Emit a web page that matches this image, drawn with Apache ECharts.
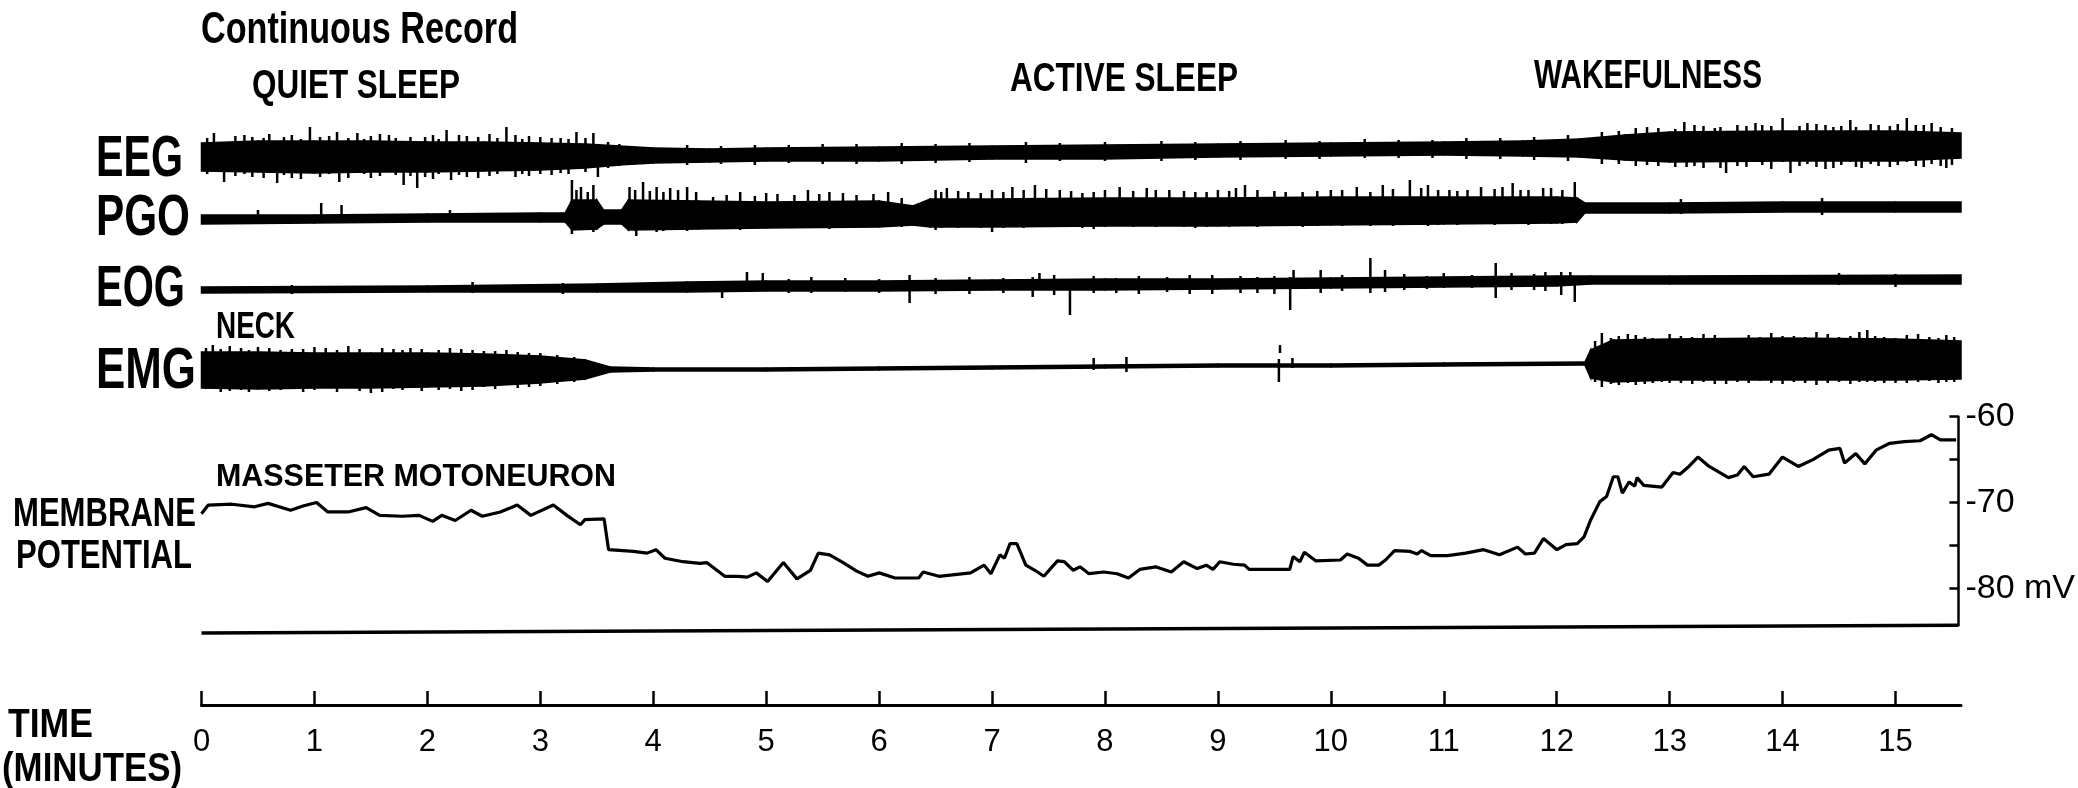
<!DOCTYPE html>
<html><head><meta charset="utf-8">
<script src="https://cdn.jsdelivr.net/npm/echarts@6/dist/echarts.min.js"></script>
<style>html,body{margin:0;padding:0;background:#fff}#c{width:2078px;height:788px}</style>
</head><body><div id="c"></div><script>
// ---------------- DATA ----------------
const timeTicks = [0,1,2,3,4,5,6,7,8,9,10,11,12,13,14,15];
const timeEnd = 15.58;

const stageLabels = ['QUIET SLEEP', 'ACTIVE SLEEP', 'WAKEFULNESS'];
const traceLabels = ['EEG', 'PGO', 'EOG', 'EMG'];

// Membrane potential of masseter motoneuron (minutes, mV)
const mpTime = [0.00,0.06,0.27,0.47,0.59,0.79,0.90,1.02,1.12,1.30,1.46,1.58,1.78,1.93,2.05,2.13,2.25,2.39,2.49,2.65,2.80,2.92,3.12,3.24,3.36,3.40,3.57,3.61,3.83,3.95,4.03,4.11,4.27,4.42,4.48,4.64,4.76,4.84,4.92,5.02,5.16,5.28,5.40,5.47,5.57,5.69,5.81,5.91,6.01,6.15,6.36,6.40,6.54,6.82,6.94,7.00,7.08,7.12,7.17,7.23,7.31,7.39,7.47,7.59,7.65,7.73,7.79,7.87,8.00,8.12,8.22,8.32,8.46,8.60,8.71,8.83,8.91,8.97,9.03,9.15,9.25,9.29,9.65,9.68,9.74,9.78,9.88,10.10,10.16,10.26,10.34,10.44,10.50,10.58,10.72,10.78,10.82,10.90,11.05,11.21,11.37,11.51,11.67,11.74,11.82,11.90,12.02,12.10,12.20,12.26,12.32,12.40,12.46,12.52,12.56,12.60,12.66,12.71,12.73,12.79,12.95,13.05,13.11,13.19,13.27,13.37,13.54,13.62,13.68,13.76,13.90,14.02,14.16,14.29,14.43,14.53,14.57,14.67,14.75,14.85,14.97,15.10,15.24,15.34,15.42,15.56];
const mpValue = [-71.3,-70.3,-70.2,-70.5,-70.1,-70.9,-70.4,-70.0,-71.1,-71.1,-70.6,-71.5,-71.6,-71.5,-72.2,-71.5,-72.1,-70.9,-71.6,-71.1,-70.3,-71.5,-70.3,-71.5,-72.6,-72.0,-71.9,-75.5,-75.7,-75.9,-75.5,-76.5,-76.9,-77.1,-77.0,-78.6,-78.6,-78.7,-78.2,-79.2,-77.0,-78.9,-77.9,-75.9,-76.1,-77.0,-78.0,-78.6,-78.2,-78.8,-78.8,-78.1,-78.6,-78.2,-77.3,-78.3,-76.1,-76.5,-74.8,-74.8,-77.3,-77.9,-78.6,-76.8,-76.9,-77.9,-77.5,-78.3,-78.1,-78.3,-78.8,-77.8,-77.5,-78.1,-76.9,-77.7,-77.3,-77.8,-76.9,-77.2,-77.3,-77.8,-77.8,-76.3,-76.9,-75.8,-76.8,-76.7,-76.0,-76.5,-77.3,-77.3,-76.7,-75.6,-75.7,-76.0,-75.6,-76.2,-76.2,-75.9,-75.5,-76.1,-75.2,-76.0,-75.9,-74.2,-75.5,-74.9,-74.8,-74.0,-72.0,-69.9,-69.3,-67.0,-67.0,-68.9,-67.6,-68.1,-67.1,-68.0,-68.2,-66.5,-66.7,-65.8,-64.7,-65.8,-67.1,-66.8,-65.8,-67.0,-66.7,-64.7,-65.8,-65.0,-63.9,-63.7,-65.4,-64.3,-65.5,-63.9,-63.1,-62.9,-62.8,-62.1,-62.7,-62.7];
// zero reference line below the membrane trace
const mpBaseTime = [0, 15.58];
const mpBaseValue = [-85.2, -84.3];
const mvTicks = [-60, -65, -70, -75, -80];
const mvLabels = [-60, -70, -80];

// Trace envelopes (arbitrary units, + = up): upper and lower edge of the dense trace
const eegTime  = [0,0.5,1,1.5,2,2.5,3,3.4,3.7,4,4.5,5,6,7,8,9,10,11,11.7,12.2,12.6,13,14,15,15.58];
const eegUpper = [9,11,11,11,10,10,9,8,6,4,3,4,5,6,7,8,9,10,11,13,17,20,21,21,19];
const eegLower = [-19,-20,-21,-20,-20,-19,-18,-16,-13,-11,-10,-9,-9,-7,-7,-5,-4,-3,-4,-5,-8,-10,-9,-9,-6];
// spikes: [minute, top, bottom]
const eegSpikes = [[0.05,14,-22],[0.11,19,-10],[0.2,8,-30],[0.3,16,-24],[0.38,17,-22],[0.45,15,-25],[0.55,14,-26],[0.6,18,-20],[0.67,10,-31],[0.73,15,-23],[0.8,17,-26],[0.88,13,-27],[0.96,25,-12],[1.05,15,-25],[1.13,16,-22],[1.2,20,-15],[1.22,10,-30],[1.3,14,-26],[1.38,19,-14],[1.44,13,-22],[1.5,16,-26],[1.58,18,-24],[1.66,17,-12],[1.72,14,-23],[1.79,10,-33],[1.85,15,-24],[1.91,8,-36],[1.98,15,-25],[2.05,17,-27],[2.1,13,-22],[2.17,22,-14],[2.21,10,-28],[2.28,17,-23],[2.35,16,-25],[2.45,15,-26],[2.55,18,-24],[2.62,14,-22],[2.7,25,-12],[2.78,17,-25],[2.84,13,-22],[2.9,16,-24],[3.0,15,-22],[3.1,14,-23],[3.18,14,-21],[3.25,13,-22],[3.32,20,-12],[3.4,14,-20],[3.47,19,-10],[3.51,6,-25],[3.6,10,-16],[3.7,8,-14],
  [4.3,7,-13],[4.6,6,-12],[4.9,7,-13],[5.2,7,-11],[5.5,8,-12],[5.8,8,-12],[6.2,9,-12],[6.5,8,-11],[6.8,9,-10],[7.3,10,-11],[7.6,9,-9],[8.0,10,-9],[8.5,11,-9],[8.8,10,-8],[9.2,11,-8],[9.6,12,-7],[9.9,11,-7],[10.3,13,-6],[10.6,12,-6],[10.9,12,-6],[11.2,14,-7],[11.5,14,-7],[11.8,15,-8],[12.1,17,-9],
  [12.4,20,-12],[12.55,21,-12],[12.7,24,-14],[12.8,25,-13],[12.9,24,-14],[13.05,23,-15],[13.13,30,-10],[13.15,15,-15],[13.22,27,-14],[13.3,26,-16],[13.4,24,-10],[13.45,25,-16],[13.5,12,-21],[13.6,27,-14],[13.68,26,-15],[13.76,29,-10],[13.82,27,-13],[13.9,26,-17],[14.0,34,-10],[14.07,15,-21],[14.15,26,-14],[14.22,29,-12],[14.3,28,-15],[14.38,27,-17],[14.45,25,-16],[14.52,26,-13],[14.6,32,-10],[14.65,25,-15],[14.7,15,-16],[14.78,28,-12],[14.85,27,-14],[14.95,26,-15],[15.02,28,-13],[15.1,34,-10],[15.18,27,-14],[15.25,27,-15],[15.32,29,-12],[15.4,25,-14],[15.45,15,-16],[15.5,24,-13]];

const pgoTime  = [0,1,2,3,3.22,3.28,3.5,3.56,3.72,3.78,4.4,5,6,6.3,6.45,7,8,9,10,11,12,12.18,12.25,13,14,15,15.58];
const pgoUpper = [-3,-3,-2,-1,-1,12,12,2,2,12,11,10,11,6,13,13,14,14,15,15,15,14,9,9,10,10,10];
const pgoLower = [-12,-11,-10,-10,-10,-18,-17,-12,-12,-18,-17,-16,-15,-13,-15,-15,-14,-14,-13,-12,-11,-10,-1,-1,0,0,0];
const pgoSpikes = [[0.5,2,-8],[1.06,9,-4],[1.24,7,-4],[2.2,2,-9],
  [3.28,32,-22],[3.32,22,-18],[3.36,25,0],[3.42,20,-18],[3.47,27,-20],[3.79,25,0],[3.84,22,-19],[3.85,10,-24],[3.91,30,0],[3.97,21,-18],[4.03,25,-20],[4.09,20,-19],[4.15,24,0],[4.22,22,-18],[4.3,25,-19],[4.38,20,-17],
  [4.53,15,0],[4.65,17,-17],[4.77,20,-18],[4.9,16,-16],[5.0,19,-16],[5.1,18,0],[5.25,17,-16],[5.37,22,0],[5.47,18,-16],[5.56,20,-17],[5.68,19,-15],[5.8,17,0],[5.95,18,-15],[6.08,20,0],[6.2,14,-15],[6.5,22,-18],[6.55,20,-16],[6.6,24,0],[6.7,21,-16],[6.79,20,0],[6.9,19,-16],[7.0,22,-20],[7.1,20,-16],[7.18,25,0],[7.28,22,-16],[7.38,27,0],[7.48,23,-15],[7.6,22,0],[7.7,21,-15],[7.8,19,-16],[7.9,20,-17],[8.0,22,-15],[8.13,25,0],[8.25,21,-15],[8.37,24,0],[8.45,22,-15],[8.57,22,0],[8.7,21,-15],[8.8,20,-16],[8.9,20,-15],[9.0,22,0],[9.1,21,-15],[9.16,24,0],[9.24,27,0],[9.35,22,-15],[9.5,21,0],[9.6,20,-14],[9.75,20,-15],[9.88,21,-14],[10.0,22,0],[10.1,22,-14],[10.23,25,0],[10.35,20,-14],[10.46,27,0],[10.55,23,-14],[10.7,32,0],[10.8,24,-13],[10.86,27,-14],[10.95,22,-13],[11.05,22,0],[11.12,21,-13],[11.21,22,0],[11.33,25,0],[11.45,23,-13],[11.52,25,-12],[11.61,29,0],[11.68,22,-12],[11.75,22,-13],[11.88,24,0],[11.95,24,-12],[12.05,22,-12],[12.16,30,0],
  [13.1,13,-2],[14.35,14,-3]];

const eogTime  = [0,2,3.5,4.3,5,6,7,8,9,10,11,12,12.3,13,15.58];
const eogUpper = [-2,-1,1,3,4,4,5,6,6,7,8,9,9,9,10];
const eogLower = [-8,-7,-7,-7,-6,-6,-5,-5,-4,-3,-2,-1,1,1,1];
const eogSpikes = [[0.8,0,-9],[2.4,3,-8],[3.2,2,-9],[4.61,0,-13],[4.83,13,0],[4.97,12,0],[5.2,6,-8],[5.4,8,-8],[5.7,7,-7],[6.0,6,-8],[6.27,10,-18],[6.5,7,-9],[6.8,8,-9],[7.1,7,-8],[7.36,8,-12],[7.42,12,0],[7.55,10,-10],[7.69,0,-30],[7.9,9,-8],[8.1,7,-8],[8.3,9,-9],[8.55,8,-7],[8.75,10,-9],[8.95,10,-9],[9.2,9,-8],[9.35,8,-8],[9.5,9,-9],[9.64,8,-25],[9.67,15,0],[9.91,15,-8],[10.1,10,-6],[10.35,27,-8],[10.48,15,-7],[10.65,11,-5],[10.85,9,-4],[11.0,12,-3],[11.25,10,-3],[11.46,22,-13],[11.6,12,-5],[11.8,11,-5],[11.9,13,-6],[12.04,13,-10],[12.12,13,0],[12.16,0,-17],[14.5,12,0],[15.0,11,-2]];

const emgTime  = [0,0.5,1,1.5,2,2.5,3,3.4,3.62,4,5,6,7,8,9,10,11,12.25,12.3,12.5,13,14,15,15.58];
const emgUpper = [13,13,12,12,12,11,9,5,-2,-3,-3,-2,-1,0,1,1,2,3,15,25,26,27,26,24];
const emgLower = [-23,-24,-23,-23,-22,-21,-18,-14,-7,-6,-6,-5,-4,-3,-2,-2,-1,0,-13,-17,-15,-15,-15,-14];
const emgSpikes = [[0.04,17,-24],[0.1,20,-10],[0.17,16,-27],[0.25,19,-26],[0.35,17,-25],[0.42,15,-27],[0.5,18,-8],[0.6,17,-26],[0.7,15,-25],[0.8,16,-24],[0.9,16,-27],[1.0,18,-25],[1.1,17,-20],[1.2,15,-27],[1.3,19,-10],[1.4,16,-26],[1.5,10,-28],[1.6,17,-27],[1.7,16,-24],[1.78,15,-25],[1.85,17,-12],[1.95,16,-26],[2.1,15,-25],[2.2,17,-24],[2.3,16,-26],[2.4,15,-25],[2.5,14,-22],[2.6,14,-24],[2.7,15,-10],[2.8,13,-23],[2.9,12,-22],[3.0,12,-21],[3.15,10,-19],[3.3,8,-17],
  [7.9,7,-5],[8.19,8,-7],[9.54,6,-17],[9.55,20,12],[9.66,7,-3],
  [12.34,24,-17],[12.4,32,-22],[12.48,27,-19],[12.55,29,-20],[12.63,31,-18],[12.7,30,-20],[12.78,28,-19],[12.85,27,-18],[12.93,26,-17],[13.0,31,-18],[13.1,29,-18],[13.2,28,-19],[13.3,31,-17],[13.4,30,-19],[13.5,27,-19],[13.6,27,-17],[13.7,30,-18],[13.8,28,-16],[13.9,32,-18],[14.0,29,-19],[14.1,29,-17],[14.2,28,-18],[14.3,33,-20],[14.4,31,-18],[14.5,28,-17],[14.6,29,-19],[14.68,33,-17],[14.75,35,-17],[14.82,29,-17],[14.9,28,-18],[15.0,27,-18],[15.1,30,-18],[15.2,31,-17],[15.3,28,-16],[15.38,27,-18],[15.45,30,-17],[15.52,28,-17]];

// ---------------- LAYOUT ----------------
const FONT = '"Liberation Sans", Arial, sans-serif';
const X0 = 201.5, W = 1759.5;
const traceCenters = [152, 212, 285, 365];
const traces = [
  {t: eegTime, u: eegUpper, l: eegLower, s: eegSpikes},
  {t: pgoTime, u: pgoUpper, l: pgoLower, s: pgoSpikes},
  {t: eogTime, u: eogUpper, l: eogLower, s: eogSpikes},
  {t: emgTime, u: emgUpper, l: emgLower, s: emgSpikes}
];

const grids = [], xAxes = [], yAxes = [], series = [];
traces.forEach((tr, i) => {
  grids.push({left: X0, width: W, top: traceCenters[i] - 50, height: 100});
  xAxes.push({gridIndex: i, type: 'value', min: 0, max: timeEnd, show: false});
  yAxes.push({gridIndex: i, type: 'value', min: -50, max: 50, show: false});
  const band = [];
  for (let k = 0; k < tr.t.length - 1; k++) band.push([tr.t[k], tr.t[k+1], tr.u[k], tr.u[k+1], tr.l[k], tr.l[k+1]]);
  series.push({
    type: 'custom', xAxisIndex: i, yAxisIndex: i, data: band, silent: true, animation: false,
    encode: {x: [0, 1], y: [2, 3, 4, 5]},
    renderItem(params, api) {
      const a = api.coord([api.value(0), api.value(2)]);
      const b = api.coord([api.value(1), api.value(3)]);
      const c = api.coord([api.value(1), api.value(5)]);
      const d = api.coord([api.value(0), api.value(4)]);
      return {type: 'polygon', shape: {points: [a, b, c, d]}, style: {fill: '#000', stroke: '#000', lineWidth: 1.5}};
    }
  });
  series.push({
    type: 'custom', xAxisIndex: i, yAxisIndex: i, data: tr.s, silent: true, animation: false,
    encode: {x: 0, y: [1, 2]},
    renderItem(params, api) {
      const p = api.coord([api.value(0), api.value(1)]);
      const q = api.coord([api.value(0), api.value(2)]);
      return {type: 'line', shape: {x1: p[0], y1: p[1], x2: q[0], y2: q[1]}, style: {stroke: '#000', lineWidth: 2.5}};
    }
  });
});

// membrane potential grid (index 4)
const MP_TOP = 416.7, MP_PX_PER_MV = 8.58, MP_MIN = -84.3, MP_MAX = -60;
grids.push({left: X0, width: W, top: MP_TOP, height: (MP_MAX - MP_MIN) * MP_PX_PER_MV});
xAxes.push({gridIndex: 4, type: 'value', min: 0, max: timeEnd, show: false});
yAxes.push({
  gridIndex: 4, type: 'value', position: 'right', min: MP_MIN, max: MP_MAX,
  splitLine: {show: false},
  axisLine: {show: true, onZero: false, lineStyle: {color: '#000', width: 2.5}},
  axisTick: {show: true, inside: true, length: 9, customValues: mvTicks, lineStyle: {color: '#000', width: 2.5}},
  axisLabel: {show: true, customValues: mvLabels, margin: 7, color: '#000', fontSize: 34, fontFamily: FONT,
    formatter: v => (v === -80 ? '-80 mV' : String(v))}
});
series.push({
  type: 'line', xAxisIndex: 4, yAxisIndex: 4, showSymbol: false, symbol: 'none', animation: false, silent: true,
  data: mpTime.map((t, k) => [t, mpValue[k]]), lineStyle: {color: '#000', width: 3.2}
});
series.push({
  type: 'line', xAxisIndex: 4, yAxisIndex: 4, showSymbol: false, symbol: 'none', animation: false, silent: true, clip: false,
  data: mpBaseTime.map((t, k) => [t, mpBaseValue[k]]), lineStyle: {color: '#000', width: 3.5}
});

// time axis grid (index 5)
grids.push({left: X0, width: W, top: 600, height: 105});
xAxes.push({
  gridIndex: 5, type: 'value', min: 0, max: timeEnd, position: 'bottom',
  splitLine: {show: false},
  axisLine: {show: true, lineStyle: {color: '#000', width: 3}},
  axisTick: {show: true, inside: true, length: 14, customValues: timeTicks, lineStyle: {color: '#000', width: 2.5}},
  axisLabel: {show: true, customValues: timeTicks, margin: 22, color: '#000', fontSize: 31, fontFamily: FONT}
});
yAxes.push({gridIndex: 5, type: 'value', show: false});

// ---------------- TEXT ----------------
const mctx = document.createElement('canvas').getContext('2d');
function label(text, x, y, size, width) {
  mctx.font = 'bold ' + size + 'px ' + FONT;
  const w = mctx.measureText(text).width;
  return {type: 'text', x: x, y: y, scaleX: width / w, silent: true,
    style: {text: text, fontSize: size, fontWeight: 'bold', fontFamily: FONT, fill: '#000', align: 'left', verticalAlign: 'middle'}};
}
const graphic = [
  label('Continuous Record', 201, 31, 44, 317),
  label(stageLabels[0], 252, 87, 40, 208),
  label(stageLabels[1], 1010, 80, 40, 228),
  label(stageLabels[2], 1534, 77, 40, 228),
  label(traceLabels[0], 96, 160, 58, 87),
  label(traceLabels[1], 96, 219, 58, 94),
  label(traceLabels[2], 96, 290, 58, 89),
  label('NECK', 216, 328, 37, 79),
  label(traceLabels[3], 96, 372, 58, 100),
  label('MASSETER MOTONEURON', 216, 477, 31, 400),
  label('MEMBRANE', 13, 515, 40, 183),
  label('POTENTIAL', 16, 557, 40, 176),
  label('TIME', 8, 726, 40, 85),
  label('(MINUTES)', 2, 770, 40, 180)
];

const chart = echarts.init(document.getElementById('c'), null, {renderer: 'canvas'});
chart.setOption({
  backgroundColor: '#fff',
  animation: false,
  grid: grids, xAxis: xAxes, yAxis: yAxes, series: series, graphic: graphic
});
</script></body></html>
